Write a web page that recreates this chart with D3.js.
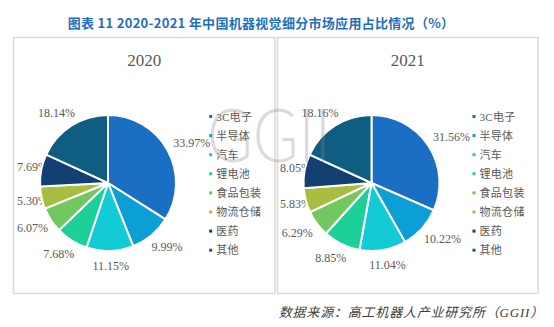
<!DOCTYPE html>
<html>
<head>
    <meta charset="utf-8">
    <script src="https://cdnjs.cloudflare.com/ajax/libs/d3/7.8.5/d3.min.js"></script>
    <style>
        body { margin: 0; background: #fff; }
        svg { display: block; }
        .title { font-family: "Noto Sans CJK SC", sans-serif; font-weight: bold; fill: #1f6fc0; }
        .year { font-family: "Liberation Serif", serif; fill: #595959; }
        .lbl { font-family: "Liberation Serif", "Noto Sans CJK SC", serif; fill: #595959; }
        .legend { font-family: "Liberation Serif", "Noto Sans CJK SC", serif; fill: #595959; }
        .source { font-family: "Liberation Serif", "Noto Sans CJK SC", serif; font-style: italic; fill: #404040; }
    </style>
</head>
<body>
    <div id="chart"></div>

    <script>
        // data
        const categories = ["3C电子", "半导体", "汽车", "锂电池", "食品包装", "物流仓储", "医药", "其他"];
        const values2020 = [33.97, 9.99, 11.15, 7.68, 6.07, 5.30, 7.69, 18.14];
        const values2021 = [31.56, 10.22, 11.04, 8.85, 6.29, 5.83, 8.05, 18.16];
        const years = ["2020", "2021"];
        const colors = ["#1a6fc4", "#0b9fd6", "#12cbd6", "#1dcf98", "#72c760", "#a9bd40", "#133f73", "#0f5e82"];

        const width = 554, height = 327;
        const svg = d3.select("#chart").append("svg")
            .attr("width", width)
            .attr("height", height);

        svg.append("text")
            .attr("class", "title")
            .attr("x", 261).attr("y", 28)
            .attr("text-anchor", "middle")
            .style("font-size", "13px")
            .style("letter-spacing", "0.3px")
            .text("图表 11 2020-2021 年中国机器视觉细分市场应用占比情况（%）");

        const panels = [
            { x0: 13.5, x1: 275, cx: 108, legendX: 210.7, minX: 17, values: values2020 },
            { x0: 277.5, x1: 538, cx: 371.5, legendX: 474, minX: 280, values: values2021 }
        ];
        const cy = 183, radius = 68;

        const color = d3.scaleOrdinal().domain(categories).range(colors);
        const pie = d3.pie().sort(null).value(d => d.value);
        const arc = d3.arc().innerRadius(0).outerRadius(radius);
        const fmt = d3.format(".2f");

        panels.forEach((p, k) => {
            const g = svg.append("g");

            // frame
            g.append("rect")
                .attr("x", p.x0).attr("y", 37.5)
                .attr("width", p.x1 - p.x0).attr("height", 256)
                .attr("fill", "none")
                .attr("stroke", "#dadada")
                .attr("stroke-width", 1.5);

            g.append("text")
                .attr("class", "year")
                .attr("x", (p.x0 + p.x1) / 2).attr("y", 66)
                .attr("text-anchor", "middle")
                .style("font-size", "17px")
                .text(years[k]);

            const data = categories.map((c, i) => ({ name: c, value: p.values[i] }));
            const arcs = pie(data);

            // labels first, the pie sits over them (as in the source)
            const labels = g.append("g");
            arcs.forEach(a => {
                const t = labels.append("text")
                    .attr("class", "lbl")
                    .style("font-size", "12px")
                    .attr("dominant-baseline", "central")
                    .text(fmt(a.data.value) + "%");
                const w = t.node().getComputedTextLength();
                const h = 13;
                const ang = (a.startAngle + a.endAngle) / 2;
                const R2 = radius + 9;
                const px = p.cx + R2 * Math.sin(ang);
                const py = cy - R2 * Math.cos(ang);
                let bx = px + Math.sin(ang) * w / 2 - w / 2;
                const by = py - Math.cos(ang) * h / 2;
                if (bx < p.minX) bx = p.minX;
                t.attr("x", bx).attr("y", by);
            });

            const pg = g.append("g").attr("transform", `translate(${p.cx},${cy})`);
            pg.selectAll("path")
                .data(arcs)
                .enter().append("path")
                .attr("d", arc)
                .attr("fill", d => color(d.data.name))
                .attr("stroke", "#fff")
                .attr("stroke-width", 2);

            // legend
            const lg = g.append("g");
            categories.forEach((c, i) => {
                const y = 116.5 + i * 19.1;
                lg.append("rect")
                    .attr("x", p.legendX - 1.5).attr("y", y - 1.5)
                    .attr("width", 3).attr("height", 3)
                    .attr("fill", color(c));
                lg.append("text")
                    .attr("class", "legend")
                    .attr("x", p.legendX + 5.5).attr("y", y)
                    .attr("dominant-baseline", "central")
                    .style("font-size", "11px")
                    .style("letter-spacing", "0.3px")
                    .text(c);
            });
        });

        // watermark
        svg.append("text")
            .attr("x", 207).attr("y", 162)
            .attr("textLength", 124)
            .attr("lengthAdjust", "spacingAndGlyphs")
            .style("font-family", "Lato, sans-serif")
            .style("font-weight", 300)
            .style("font-size", "74px")
            .attr("fill", "#888")
            .attr("opacity", 0.3)
            .text("GGII");

        svg.append("text")
            .attr("class", "source")
            .attr("x", 544).attr("y", 317)
            .attr("text-anchor", "end")
            .style("font-size", "13px")
            .style("letter-spacing", "0.8px")
            .text("数据来源：高工机器人产业研究所（GGII）");
    </script>
</body>
</html>
